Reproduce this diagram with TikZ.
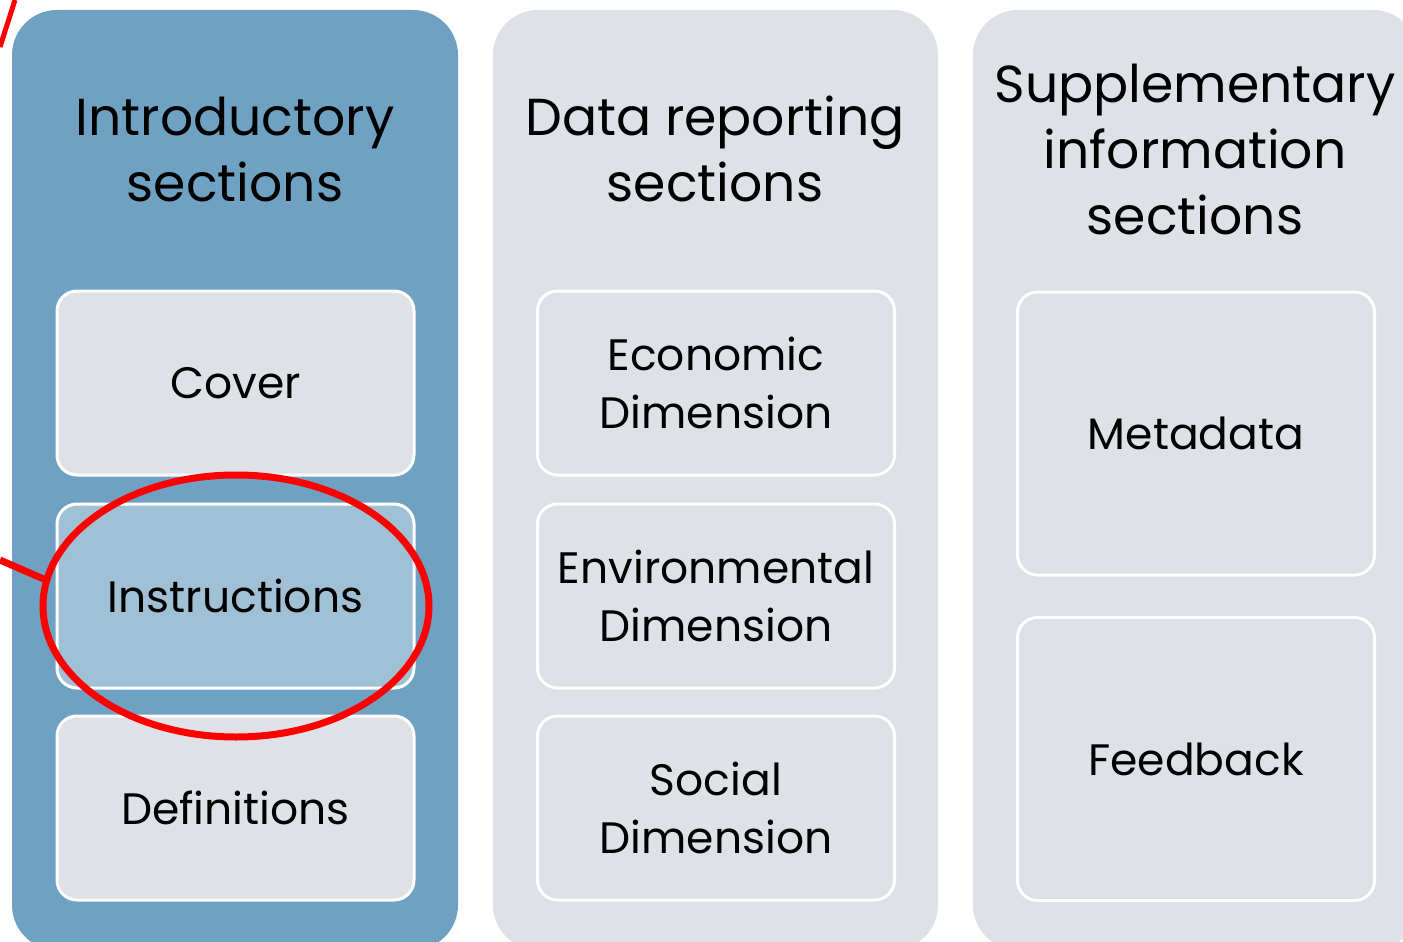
\documentclass[tikz,border=0pt]{standalone}
\usepackage{fontspec}
\setmainfont{Poppins}
\usetikzlibrary{shapes.geometric}

\definecolor{colblue}{RGB}{111,161,194}
\definecolor{boxgrey}{RGB}{222,226,230}
\definecolor{boxblue}{RGB}{160,192,214}

\begin{document}
\begin{tikzpicture}[x=1pt,y=-1pt]
	\tikzstyle{column}=[rounded corners=45pt]
	\tikzstyle{header}=[align=center,font=\fontsize{52}{66}\selectfont]
	\tikzstyle{part}=[draw=white,line width=3pt,fill=boxgrey,rounded corners=20pt,
		minimum width=357pt,minimum height=184pt,align=center,
		font=\fontsize{44}{58}\selectfont]
	\tikzstyle{mark ring}=[ellipse,draw=red,line width=7pt,
		minimum width=386pt,minimum height=262pt]
	\useasboundingbox (0,0) rectangle (1403,942);
	% columns
	\fill[column,colblue] (12,10) rectangle (458,950);
	\fill[column,boxgrey] (493,10) rectangle (938,950);
	\fill[column,boxgrey] (973,10) rectangle (1418,950);
	% headers
	\node[header] (intro) at (235,149) {Introductory\\sections};
	\node[header] (data) at (715,149) {Data reporting\\sections};
	\node[header] (supp) at (1195,149) {Supplementary\\information\\sections};
	% introductory parts
	\node[part] (cover) at (235.5,383) {Cover};
	\node[part,fill=boxblue] (instr) at (235.5,596) {Instructions};
	\node[part] (defs) at (235.5,808) {Definitions};
	% data reporting parts
	\node[part] (econ) at (716,383) {Economic\\Dimension};
	\node[part] (env) at (716,596) {Environmental\\Dimension};
	\node[part] (soc) at (716,808) {Social\\Dimension};
	% supplementary parts
	\node[part,minimum height=283pt] (meta) at (1196,433.5) {Metadata};
	\node[part,minimum height=283pt] (feed) at (1196,759) {Feedback};
	% highlight
	\node[mark ring] (ring) at (236,606) {};
	\coordinate (lead) at (0,560);
	\coordinate (top a) at (15,0);
	\coordinate (top b) at (0,47);
	\draw[red,line width=7pt] (lead) -- (ring.172);
	\draw[red,line width=5pt] (top a) -- (top b);
\end{tikzpicture}
\end{document}
